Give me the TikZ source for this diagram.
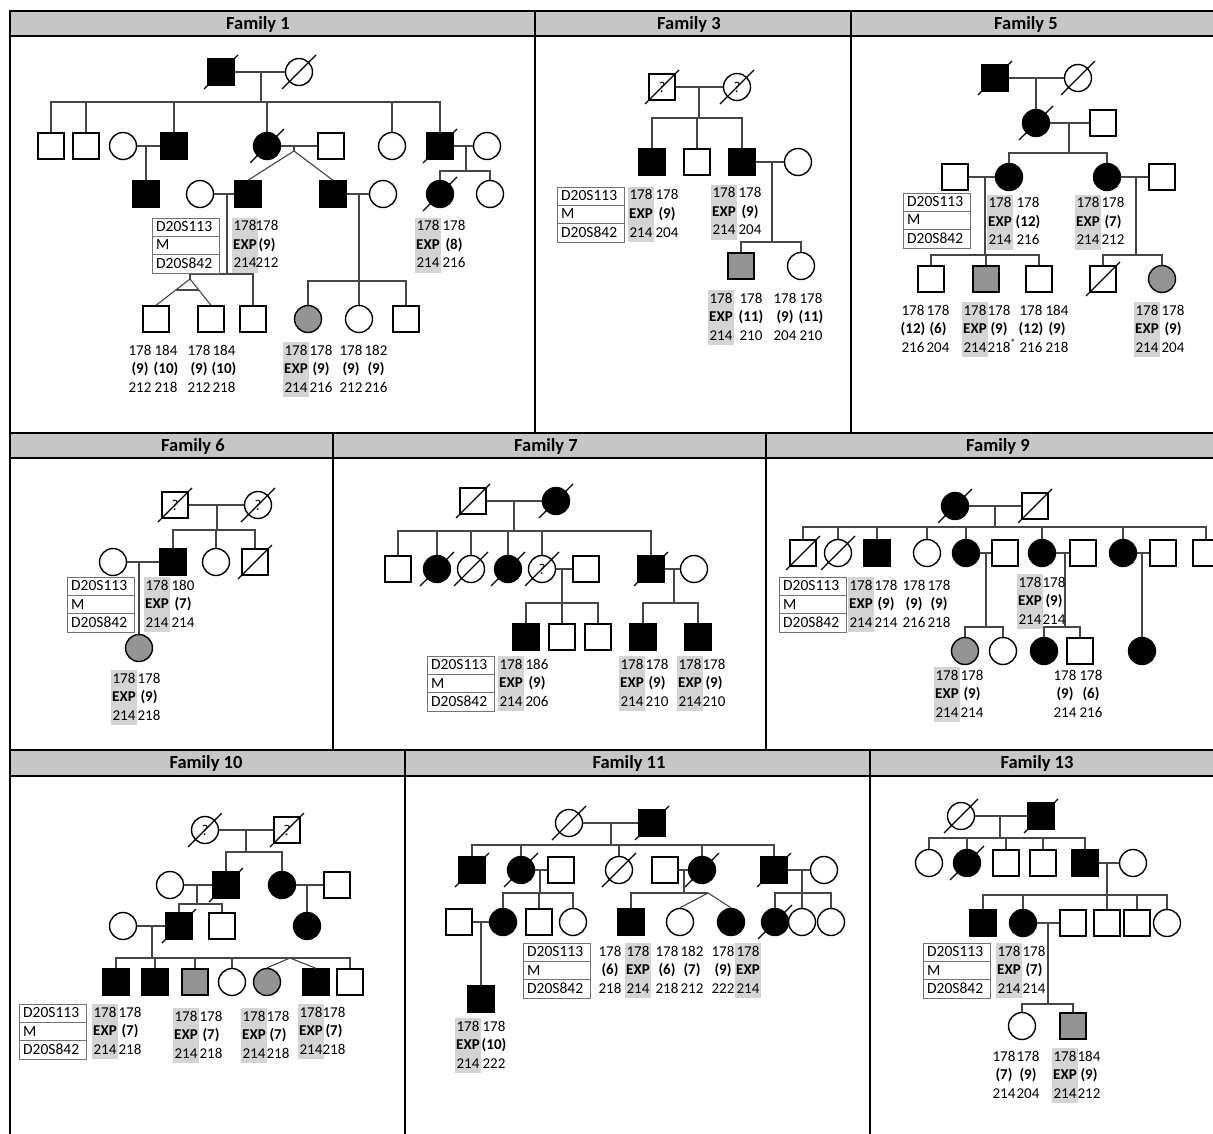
\documentclass[tikz,border=0pt]{standalone}
\usepackage{fontspec}
\setmainfont{Carlito}
\usetikzlibrary{calc}
\definecolor{hdr}{RGB}{198,198,198}
\definecolor{hlc}{RGB}{212,212,212}
\definecolor{carg}{RGB}{148,148,148}
\definecolor{lnc}{RGB}{70,70,70}
\newcommand\gfont{\fontsize{15}{18.5}\selectfont}
\newcommand\mfont{\fontsize{15.5}{18.5}\selectfont}
\newcount\tn
\newcommand\tx[3]{\global\advance\tn by 1 \node[gtx] (tx\the\tn) at (#1,#2) {#3};}
\newcommand\gcol[5]{\tx{#1+11}{#2+13}{#3}\tx{#1+11}{#2+31.5}{\textbf{#4}}\tx{#1+11}{#2+50}{#5}}
\newcommand\hcol[5]{\fill[hlc] (#1,#2) rectangle ++(26,55);\tx{#1+13}{#2+13}{#3}\tx{#1+13}{#2+31.5}{\textbf{#4}}\tx{#1+13}{#2+50}{#5}}
\newcommand\mkrbox[3]{\draw[mk] (#1,#2) rectangle ++(67,55);
 \draw[mk] (#1,#2+18.3) -- ++(67,0); \draw[mk] (#1,#2+36.7) -- ++(67,0);
 \node[mtx] (#3a) at (#1+4,#2+13.5) {D20S113};
 \node[mtx] (#3b) at (#1+4,#2+32) {M};
 \node[mtx] (#3c) at (#1+4,#2+50.5) {D20S842};}
\newcommand\dead[1]{\draw[slash] ([shift={(-17,17)}]#1.center) -- ([shift={(17,-17)}]#1.center);}
\newcommand\kids[5]{\draw[con] (#1) -- (#1 |- 0,#2);
 \draw[con] (#3.north) -- (#3.north |- 0,#2) -- (#4.north |- 0,#2) -- (#4.north);
 \foreach \k in {#5} {\draw[con] (\k.north) -- (\k.north |- 0,#2);}}
\begin{document}
\begin{tikzpicture}[x=1pt,y=-1pt,
 sym/.style={draw=black, line width=1.4pt, inner sep=0pt, font=\fontsize{15}{15}\selectfont},
 sq/.style={sym, rectangle, minimum width=26pt, minimum height=26pt},
 ci/.style={sym, circle, minimum size=27pt},
 aff/.style={fill=black},
 car/.style={fill=carg},
 con/.style={draw=lnc, line width=1.1pt},
 slash/.style={draw=black, line width=1.3pt},
 gtx/.style={anchor=base, inner sep=0pt, font=\gfont},
 mtx/.style={anchor=base west, inner sep=0pt, font=\mfont},
 mk/.style={draw=black!55, line width=0.9pt},
 ttl/.style={font=\fontsize{18.5}{20}\selectfont\bfseries, inner sep=0pt},
 frm/.style={draw=black, line width=2pt},
 dv/.style={draw=black, line width=1.3pt}]
\useasboundingbox (0,0) rectangle (1213,1134);
\fill[white] (0,0) rectangle (1213,1134);
% ---------- frames ----------
\fill[hdr] (10,11) rectangle (1230,36);
\fill[hdr] (10,433) rectangle (1230,458);
\fill[hdr] (10,750) rectangle (1230,776);
\draw[frm] (10,11) rectangle (1230,1150);
\draw[frm] (10,36) -- (1230,36);
\draw[frm] (10,433) -- (1230,433);
\draw[frm] (10,458) -- (1230,458);
\draw[frm] (10,750) -- (1230,750);
\draw[frm] (10,776) -- (1230,776);
\draw[dv] (535,11) -- (535,433);
\draw[dv] (851,11) -- (851,433);
\draw[dv] (333,433) -- (333,750);
\draw[dv] (766,433) -- (766,750);
\draw[dv] (405,750) -- (405,1150);
\draw[dv] (870,750) -- (870,1150);
\node[ttl] (h1) at (258,24) {Family 1};
\node[ttl] (h3) at (689,24) {Family 3};
\node[ttl] (h5) at (1026,24) {Family 5};
\node[ttl] (h6) at (193,446) {Family 6};
\node[ttl] (h7) at (546,446) {Family 7};
\node[ttl] (h9) at (998,446) {Family 9};
\node[ttl] (h10) at (206,763) {Family 10};
\node[ttl] (h11) at (629,763) {Family 11};
\node[ttl] (h13) at (1037,763) {Family 13};
% ---------- Family 1 ----------
\node[sq,aff] (f1a) at (221,72) {}; \dead{f1a}
\node[ci] (f1b) at (299,72) {}; \dead{f1b}
\draw[con] (f1a) -- (f1b); \coordinate (f1m) at (261,72);
\node[sq] (f1c) at (51,146) {};
\node[sq] (f1d) at (86,146) {};
\node[ci] (f1e) at (123,146) {};
\node[sq,aff] (f1f) at (174,146) {};
\node[ci,aff] (f1g) at (267,146) {}; \dead{f1g}
\node[sq] (f1h) at (331,146) {};
\node[ci] (f1i) at (392,146) {};
\node[sq,aff] (f1j) at (440,146) {}; \dead{f1j}
\node[ci] (f1k) at (487,146) {};
\kids{f1m}{102}{f1c}{f1j}{f1d,f1f,f1g,f1i}
\draw[con] (f1e) -- (f1f); \coordinate (f1m2) at (146,146);
\draw[con] (f1g) -- (f1h); \coordinate (f1m3) at (294,146); \coordinate (f1t1) at (294,151);
\draw[con] (f1j) -- (f1k); \coordinate (f1m4) at (466,146);
\node[sq,aff] (f1l) at (146,194) {};
\draw[con] (f1m2) -- (f1l);
\node[ci] (f1n) at (200,194) {};
\node[sq,aff] (f1o) at (248,194) {};
\node[sq,aff] (f1q) at (333,194) {};
\node[ci] (f1x) at (383,194) {};
\draw[con] (f1m3) -- (f1t1);
\draw[con] (f1o.north) -- (f1t1) -- (f1q.north);
\node[ci,aff] (f1r) at (440,194) {}; \dead{f1r}
\node[ci] (f1s) at (490,194) {};
\kids{f1m4}{171}{f1r}{f1s}{f1r}
\draw[con] (f1n) -- (f1o); \coordinate (f1m5) at (227,194);
\draw[con] (f1q) -- (f1x); \coordinate (f1m6) at (359,194);
\node[sq] (f1u) at (156,319) {};
\node[sq] (f1v) at (211,319) {};
\node[sq] (f1w) at (253,319) {};
\coordinate (f1t2) at (190,274); \coordinate (f1t3) at (190,279);
\draw[con] (f1m5) -- (f1m5 |- f1t2);
\draw[con] (f1t3) -- (f1t2) -- (f1w.north |- f1t2) -- (f1w.north);
\draw[con] (f1u.north) -- (f1t3) -- (f1v.north);
\draw[con] ($(f1t3)!0.42!(f1u.north)$) -- ($(f1t3)!0.42!(f1v.north)$);
\node[ci,car] (f1y) at (308,319) {};
\node[ci] (f1z) at (359,319) {};
\node[sq] (f1aa) at (406,319) {};
\kids{f1m6}{281}{f1y}{f1aa}{f1z}
\mkrbox{152}{218}{mka}
\hcol{232}{218}{178}{EXP}{214} \gcol{256}{218}{178}{(9)}{212}
\hcol{415}{218}{178}{EXP}{214} \gcol{443}{218}{178}{(8)}{216}
\gcol{129}{342}{178}{(9)}{212} \gcol{155}{342}{184}{(10)}{218}
\gcol{188}{342}{178}{(9)}{212} \gcol{213}{342}{184}{(10)}{218}
\hcol{283}{342}{178}{EXP}{214} \gcol{310}{342}{178}{(9)}{216}
\gcol{340}{342}{178}{(9)}{212} \gcol{365}{342}{182}{(9)}{216}
% ---------- Family 3 ----------
\node[sq] (f3a) at (662,87) {?}; \dead{f3a}
\node[ci] (f3b) at (737,87) {?}; \dead{f3b}
\draw[con] (f3a) -- (f3b); \coordinate (f3m) at (699,87);
\node[sq,aff] (f3c) at (652,162) {};
\node[sq] (f3d) at (697,162) {};
\node[sq,aff] (f3e) at (742,162) {};
\node[ci] (f3f) at (798,162) {};
\kids{f3m}{118}{f3c}{f3e}{f3d}
\draw[con] (f3e) -- (f3f); \coordinate (f3m2) at (772,162);
\node[sq,car] (f3g) at (741,266) {};
\node[ci] (f3h) at (801,266) {};
\kids{f3m2}{242}{f3g}{f3h}{f3g}
\mkrbox{557}{187}{mkb}
\hcol{628}{187}{178}{EXP}{214} \gcol{656}{187}{178}{(9)}{204}
\hcol{711}{185}{178}{EXP}{214} \gcol{739}{185}{178}{(9)}{204}
\hcol{708}{290}{178}{EXP}{214} \gcol{740}{290}{178}{(11)}{210}
\gcol{774}{290}{178}{(9)}{204} \gcol{800}{290}{178}{(11)}{210}
% ---------- Family 5 ----------
\node[sq,aff] (f5a) at (995,78) {}; \dead{f5a}
\node[ci] (f5b) at (1078,78) {}; \dead{f5b}
\draw[con] (f5a) -- (f5b); \coordinate (f5m) at (1036,78);
\node[ci,aff] (f5c) at (1036,123) {}; \dead{f5c}
\draw[con] (f5m) -- (f5c);
\node[sq] (f5d) at (1103,123) {};
\draw[con] (f5c) -- (f5d); \coordinate (f5m2) at (1069,123);
\node[ci,aff] (f5e) at (1009,177) {};
\node[ci,aff] (f5g) at (1107,177) {};
\kids{f5m2}{153}{f5e}{f5g}{f5e}
\node[sq] (f5f) at (955,177) {};
\draw[con] (f5f) -- (f5e); \coordinate (f5m3) at (985,177);
\node[sq] (f5k) at (1162,177) {};
\draw[con] (f5g) -- (f5k); \coordinate (f5m4) at (1136,177);
\node[sq] (f5h) at (931,279) {};
\node[sq,car] (f5i) at (986,279) {};
\node[sq] (f5j) at (1039,279) {};
\kids{f5m3}{255}{f5h}{f5j}{f5i}
\node[sq] (f5l) at (1103,279) {}; \dead{f5l}
\node[ci,car] (f5n) at (1162,279) {};
\kids{f5m4}{255}{f5l}{f5n}{f5l}
\mkrbox{903}{193}{mkc}
\hcol{987}{195}{178}{EXP}{214} \gcol{1017}{195}{178}{(12)}{216}
\hcol{1075}{195}{178}{EXP}{214} \gcol{1102}{195}{178}{(7)}{212}
\gcol{902}{302}{178}{(12)}{216} \gcol{927}{302}{178}{(6)}{204}
\hcol{962}{302}{178}{EXP}{214} \gcol{988}{302}{178}{(9)}{218\rlap{\textsuperscript{*}}}
\gcol{1020}{302}{178}{(12)}{216} \gcol{1046}{302}{184}{(9)}{218}
\hcol{1134}{302}{178}{EXP}{214} \gcol{1162}{302}{178}{(9)}{204}
% ---------- Family 6 ----------
\node[sq] (f6a) at (175,505) {?}; \dead{f6a}
\node[ci] (f6b) at (258,505) {?}; \dead{f6b}
\draw[con] (f6a) -- (f6b); \coordinate (f6m) at (217,505);
\node[ci] (f6c) at (113,562) {};
\node[sq,aff] (f6d) at (173,562) {};
\node[ci] (f6e) at (216,562) {};
\node[sq] (f6f) at (255,562) {}; \dead{f6f}
\kids{f6m}{530}{f6d}{f6f}{f6e}
\draw[con] (f6c) -- (f6d); \coordinate (f6m2) at (139,562);
\node[ci,car] (f6g) at (139,648) {};
\draw[con] (f6m2) -- (f6g);
\mkrbox{67}{577}{mkd}
\hcol{144}{577}{178}{EXP}{214} \gcol{172}{577}{180}{(7)}{214}
\hcol{111}{670}{178}{EXP}{214} \gcol{138}{670}{178}{(9)}{218}
% ---------- Family 7 ----------
\node[sq] (f7a) at (473,501) {}; \dead{f7a}
\node[ci,aff] (f7b) at (556,501) {}; \dead{f7b}
\draw[con] (f7a) -- (f7b); \coordinate (f7m) at (514,501);
\node[sq] (f7c) at (398,569) {};
\node[ci,aff] (f7d) at (437,569) {}; \dead{f7d}
\node[ci] (f7e) at (471,569) {}; \dead{f7e}
\node[ci,aff] (f7f) at (508,569) {}; \dead{f7f}
\node[ci] (f7g) at (542,569) {?}; \dead{f7g}
\node[sq] (f7h) at (586,569) {};
\node[sq,aff] (f7i) at (651,569) {}; \dead{f7i}
\node[ci] (f7n) at (694,569) {};
\kids{f7m}{531}{f7c}{f7i}{f7d,f7e,f7f,f7g}
\draw[con] (f7g) -- (f7h); \coordinate (f7m2) at (562,569);
\draw[con] (f7i) -- (f7n); \coordinate (f7m3) at (674,569);
\node[sq,aff] (f7j) at (526,637) {};
\node[sq] (f7k) at (562,637) {};
\node[sq] (f7l) at (598,637) {};
\kids{f7m2}{603}{f7j}{f7l}{f7k}
\node[sq,aff] (f7o) at (643,637) {};
\node[sq,aff] (f7p) at (698,637) {};
\kids{f7m3}{603}{f7o}{f7p}{f7o}
\mkrbox{427}{656}{mke}
\hcol{498}{656}{178}{EXP}{214} \gcol{526}{656}{186}{(9)}{206}
\hcol{619}{656}{178}{EXP}{214} \gcol{646}{656}{178}{(9)}{210}
\hcol{677}{656}{178}{EXP}{214} \gcol{703}{656}{178}{(9)}{210}
% ---------- Family 9 ----------
\node[ci,aff] (f9a) at (955,506) {}; \dead{f9a}
\node[sq] (f9b) at (1035,506) {}; \dead{f9b}
\draw[con] (f9a) -- (f9b); \coordinate (f9m) at (995,506);
\node[sq] (f9c) at (803,553) {}; \dead{f9c}
\node[ci] (f9d) at (838,553) {}; \dead{f9d}
\node[sq,aff] (f9e) at (877,553) {};
\node[ci] (f9f) at (927,553) {};
\node[ci,aff] (f9g) at (966,553) {};
\node[sq] (f9h) at (1005,553) {};
\node[ci,aff] (f9i) at (1042,553) {};
\node[sq] (f9j) at (1083,553) {};
\node[ci,aff] (f9k) at (1123,553) {};
\node[sq] (f9l) at (1163,553) {};
\node[sq] (f9n) at (1206,553) {};
\kids{f9m}{527}{f9c}{f9n}{f9d,f9e,f9f,f9g,f9i,f9k}
\draw[con] (f9g) -- (f9h); \coordinate (f9m2) at (986,553);
\draw[con] (f9i) -- (f9j); \coordinate (f9m3) at (1065,553);
\draw[con] (f9k) -- (f9l); \coordinate (f9m4) at (1142,553);
\node[ci,car] (f9o) at (965,651) {};
\node[ci] (f9p) at (1003,651) {};
\kids{f9m2}{627}{f9o}{f9p}{f9o}
\node[ci,aff] (f9q) at (1044,651) {};
\node[sq] (f9r) at (1080,651) {};
\kids{f9m3}{627}{f9q}{f9r}{f9q}
\node[ci,aff] (f9s) at (1142,651) {};
\draw[con] (f9m4) -- (f9s);
\mkrbox{779}{577}{mkf}
\hcol{848}{577}{178}{EXP}{214} \gcol{875}{577}{178}{(9)}{214}
\gcol{903}{577}{178}{(9)}{216} \gcol{928}{577}{178}{(9)}{218}
\hcol{1017}{574}{178}{EXP}{214} \gcol{1043}{574}{178}{(9)}{214}
\hcol{934}{667}{178}{EXP}{214} \gcol{961}{667}{178}{(9)}{214}
\gcol{1054}{667}{178}{(9)}{214} \gcol{1080}{667}{178}{(6)}{216}
% ---------- Family 10 ----------
\node[ci] (f10a) at (205,830) {?}; \dead{f10a}
\node[sq] (f10b) at (287,830) {?}; \dead{f10b}
\draw[con] (f10a) -- (f10b); \coordinate (f10m) at (246,830);
\node[ci] (f10e) at (170,885) {};
\node[sq,aff] (f10c) at (226,885) {}; \dead{f10c}
\node[ci,aff] (f10d) at (282,885) {};
\node[sq] (f10f) at (337,885) {};
\kids{f10m}{852}{f10c}{f10d}{f10c}
\draw[con] (f10e) -- (f10c); \coordinate (f10m2) at (197,885);
\draw[con] (f10d) -- (f10f); \coordinate (f10m3) at (307,885);
\node[ci] (f10j) at (123,926) {};
\node[sq,aff] (f10g) at (179,926) {}; \dead{f10g}
\node[sq] (f10h) at (222,926) {};
\kids{f10m2}{904}{f10g}{f10h}{f10g}
\node[ci,aff] (f10i) at (307,926) {};
\draw[con] (f10m3) -- (f10i);
\draw[con] (f10j) -- (f10g); \coordinate (f10m4) at (152,926);
\node[sq,aff] (f10k) at (116,982) {};
\node[sq,aff] (f10l) at (155,982) {};
\node[sq,car] (f10n) at (195,982) {};
\node[ci] (f10o) at (232,982) {};
\node[ci,car] (f10p) at (267,982) {};
\node[sq,aff] (f10q) at (316,982) {};
\node[sq] (f10r) at (350,982) {};
\kids{f10m4}{958}{f10k}{f10r}{f10l,f10n,f10o}
\coordinate (f10t) at (290,958);
\draw[con] (f10p.north) -- (f10t) -- (f10q.north);
\mkrbox{19}{1004}{mkg}
\hcol{92}{1004}{178}{EXP}{214} \gcol{119}{1004}{178}{(7)}{218}
\hcol{173}{1008}{178}{EXP}{214} \gcol{200}{1008}{178}{(7)}{218}
\hcol{241}{1008}{178}{EXP}{214} \gcol{267}{1008}{178}{(7)}{218}
\hcol{298}{1004}{178}{EXP}{214} \gcol{323}{1004}{178}{(7)}{218}
% ---------- Family 11 ----------
\node[ci] (f11a) at (569,823) {}; \dead{f11a}
\node[sq,aff] (f11b) at (652,823) {}; \dead{f11b}
\draw[con] (f11a) -- (f11b); \coordinate (f11m) at (611,823);
\node[sq,aff] (f11c) at (472,870) {}; \dead{f11c}
\node[ci,aff] (f11d) at (521,870) {}; \dead{f11d}
\node[sq] (f11e) at (561,870) {};
\node[ci] (f11f) at (619,870) {}; \dead{f11f}
\node[sq] (f11g) at (665,870) {};
\node[ci,aff] (f11h) at (702,870) {}; \dead{f11h}
\node[sq,aff] (f11i) at (774,870) {}; \dead{f11i}
\node[ci] (f11j) at (824,870) {};
\kids{f11m}{845}{f11c}{f11i}{f11d,f11f,f11h}
\draw[con] (f11d) -- (f11e); \coordinate (f11m2) at (540,870);
\draw[con] (f11g) -- (f11h); \coordinate (f11m4) at (684,870);
\draw[con] (f11i) -- (f11j); \coordinate (f11m5) at (802,870);
\node[sq] (f11o) at (459,922) {};
\node[ci,aff] (f11k) at (503,922) {};
\node[sq] (f11l) at (539,922) {};
\node[ci] (f11n) at (573,922) {};
\kids{f11m2}{893}{f11k}{f11n}{f11l}
\draw[con] (f11o) -- (f11k); \coordinate (f11m3) at (481,922);
\node[sq,aff] (f11p) at (481,999) {};
\draw[con] (f11m3) -- (f11p);
\node[sq,aff] (f11q) at (631,922) {};
\node[ci] (f11r) at (680,922) {};
\node[ci,aff] (f11s) at (731,922) {};
\coordinate (f11t) at (708,893);
\draw[con] (f11m4) -- (f11m4 |- f11t);
\draw[con] (f11q.north) -- (f11q.north |- f11t) -- (f11t);
\draw[con] (f11r.north) -- (f11t) -- (f11s.north);
\node[ci,aff] (f11u) at (775,922) {}; \dead{f11u}
\node[ci] (f11v) at (802,922) {};
\node[ci] (f11w) at (831,922) {};
\kids{f11m5}{893}{f11u}{f11w}{f11v}
\mkrbox{523}{943}{mkh}
\gcol{599}{943}{178}{(6)}{218}
\hcol{625}{943}{178}{EXP}{214}
\gcol{656}{943}{178}{(6)}{218} \gcol{681}{943}{182}{(7)}{212}
\gcol{712}{943}{178}{(9)}{222}
\hcol{735}{943}{178}{EXP}{214}
\hcol{455}{1018}{178}{EXP}{214} \gcol{483}{1018}{178}{(10)}{222}
% ---------- Family 13 ----------
\node[ci] (f13a) at (961,816) {}; \dead{f13a}
\node[sq,aff] (f13b) at (1041,816) {}; \dead{f13b}
\draw[con] (f13a) -- (f13b); \coordinate (f13m) at (1000,816);
\node[ci] (f13c) at (929,863) {};
\node[ci,aff] (f13d) at (967,863) {}; \dead{f13d}
\node[sq] (f13e) at (1006,863) {};
\node[sq] (f13f) at (1043,863) {};
\node[sq,aff] (f13g) at (1085,863) {};
\node[ci] (f13h) at (1133,863) {};
\kids{f13m}{838}{f13c}{f13g}{f13d,f13e,f13f}
\draw[con] (f13g) -- (f13h); \coordinate (f13m2) at (1107,863);
\node[sq,aff] (f13i) at (983,923) {};
\node[ci,aff] (f13j) at (1023,923) {};
\node[sq] (f13k) at (1073,923) {};
\node[sq] (f13l) at (1107,923) {};
\node[sq] (f13n) at (1137,923) {};
\node[ci] (f13o) at (1167,923) {};
\kids{f13m2}{895}{f13i}{f13o}{f13j,f13l,f13n}
\draw[con] (f13j) -- (f13k); \coordinate (f13m3) at (1048,923);
\node[ci] (f13p) at (1022,1026) {};
\node[sq,car] (f13q) at (1073,1026) {};
\kids{f13m3}{1004}{f13p}{f13q}{f13p}
\mkrbox{923}{943}{mki}
\hcol{996}{943}{178}{EXP}{214} \gcol{1023}{943}{178}{(7)}{214}
\gcol{993}{1048}{178}{(7)}{214} \gcol{1017}{1048}{178}{(9)}{204}
\hcol{1052}{1048}{178}{EXP}{214} \gcol{1078}{1048}{184}{(9)}{212}
\end{tikzpicture}
\end{document}
